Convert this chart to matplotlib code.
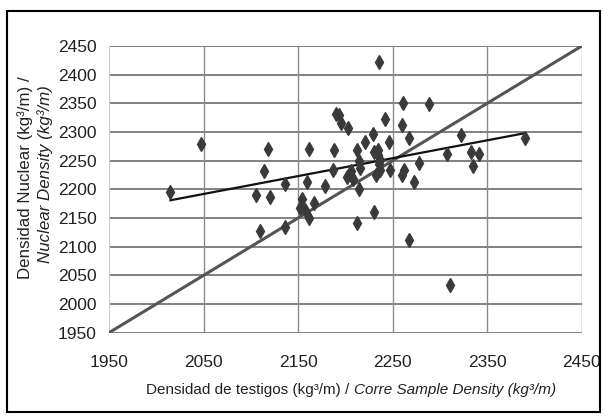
import matplotlib
matplotlib.use("Agg")
import matplotlib.pyplot as plt
from matplotlib.patches import Rectangle

plt.rcParams['font.family'] = ['Liberation Sans', 'DejaVu Sans']

# core sample density (x) vs nuclear density (y), kg3/m
core_density = [2015, 2047, 2118, 2114, 2105, 2120, 2136, 2110, 2136, 2162,
                2159, 2154, 2152, 2157, 2162, 2167, 2188, 2178, 2187, 2190,
                2193, 2195, 2203, 2212, 2214, 2202, 2208, 2206, 2214, 2212,
                2221, 2229, 2230, 2235, 2237, 2232, 2237, 2230, 2242, 2246,
                2247, 2261, 2260, 2267, 2262, 2260, 2278, 2273, 2288, 2236,
                2307, 2333, 2341, 2335, 2311, 2267, 2390, 2322, 2236, 2216,
                2235]
nuclear_density = [2196, 2279, 2270, 2232, 2190, 2186, 2209, 2127, 2134, 2270,
                   2213, 2183, 2168, 2164, 2150, 2177, 2269, 2206, 2234, 2332,
                   2330, 2316, 2307, 2269, 2249, 2222, 2218, 2232, 2200, 2141,
                   2283, 2296, 2266, 2269, 2251, 2225, 2234, 2161, 2323, 2282,
                   2234, 2351, 2312, 2289, 2234, 2225, 2246, 2212, 2348, 2422,
                   2261, 2266, 2262, 2240, 2034, 2112, 2290, 2294, 2245, 2238,
                   2260]

# linear trend line
trend_x = [2015, 2390]
trend_y = [2181, 2298]

# y = x reference line
equal_line = [1950, 2450]

x_ticks = [1950, 2050, 2150, 2250, 2350, 2450]
y_ticks = list(range(1950, 2451, 50))

fig = plt.figure(figsize=(6.05, 4.16), dpi=100)
ax = fig.add_axes([109 / 605, 1 - 332.7 / 416, (581.7 - 109) / 605, (332.7 - 46) / 416])

ax.set_xlim(1950, 2450)
ax.set_ylim(1950, 2450)
ax.set_xticks(x_ticks)
ax.set_yticks(y_ticks)
ax.tick_params(length=0, labelsize=12.5, colors='#222222')
ax.tick_params(axis='x', pad=16)
ax.tick_params(axis='y', pad=9)
for s in ax.spines.values():
    s.set_visible(False)

for v in y_ticks:
    ax.axhline(v, color='#5f5f5f', lw=1.1, zorder=0)
for v in x_ticks[1:]:
    ax.axvline(v, color='#8a8a8a', lw=1.0, zorder=0)
ax.axvline(x_ticks[0], color='#cccccc', lw=1.5, zorder=0)

ax.plot(equal_line, equal_line, color='#555555', lw=2.2, zorder=2)
ax.plot(trend_x, trend_y, color='#111111', lw=1.6, zorder=3)
ax.plot(core_density, nuclear_density, linestyle='none', marker='d',
        markersize=7, color='#3a3a3a', zorder=4)

# y label, two lines, second one italic
fig.text(25 / 605, 1 - 178 / 416, 'Densidad Nuclear (kg³/m) /', rotation=90,
         ha='center', va='center', fontsize=12.2, color='#222222')
fig.text(45 / 605, 1 - 174 / 416, 'Nuclear Density (kg³/m)', rotation=90,
         ha='center', va='center', fontsize=12.2, style='italic', color='#222222')

# x label, normal + italic part
t1 = fig.text(0, 1 - 390 / 416, 'Densidad de testigos (kg³/m) / ',
              ha='left', va='center', fontsize=11, color='#222222')
t2 = fig.text(0, 1 - 390 / 416, 'Corre Sample Density (kg³/m)',
              ha='left', va='center', fontsize=11, style='italic', color='#222222')
fig.canvas.draw()
r = fig.canvas.get_renderer()
w1 = t1.get_window_extent(r).width
w2 = t2.get_window_extent(r).width
start = 351 - (w1 + w2) / 2
t1.set_x(start / 605)
t2.set_x((start + w1) / 605)

fig.patches.append(Rectangle((7 / 605, 1 - 412 / 416), 593 / 605, 401 / 416,
                             transform=fig.transFigure, fill=False,
                             edgecolor='black', lw=1.5))

fig.savefig('out.png', dpi=100)
